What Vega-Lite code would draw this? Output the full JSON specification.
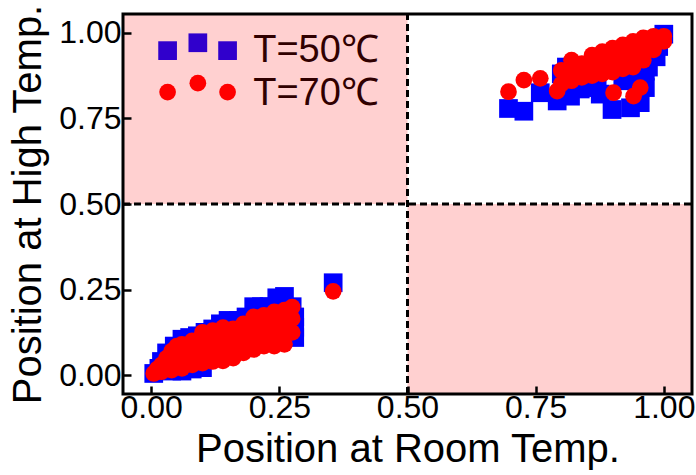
{
  "$schema": "https://vega.github.io/schema/vega-lite/v6.json",
  "width": 569,
  "height": 380,
  "autosize": {"type": "none"},
  "padding": {"left": 123, "top": 14, "right": 4, "bottom": 81},
  "background": "white",
  "config": {"view": {"stroke": null}, "font": "Liberation Sans"},
  "datasets": {
    "regions": [
      {"x": -0.06, "x2": 0.5, "y": 0.5, "y2": 1.06},
      {"x": 0.5, "x2": 1.06, "y": -0.06, "y2": 0.5}
    ],
    "lines": [
      {"x": 0.5, "x2": 0.5, "y": -0.055, "y2": 1.055},
      {"x": -0.055, "x2": 1.055, "y": 0.5, "y2": 0.5}
    ],
    "frame": [
      {"x": -0.055, "x2": 1.055, "y": -0.055, "y2": 1.055}
    ],
    "t50": [
      {"x": 0.005, "y": 0.005}, {"x": 0.015, "y": 0.02}, {"x": 0.02, "y": 0.04}, {"x": 0.03, "y": 0.065},
      {"x": 0.045, "y": 0.085}, {"x": 0.06, "y": 0.105}, {"x": 0.075, "y": 0.11}, {"x": 0.09, "y": 0.115},
      {"x": 0.105, "y": 0.125}, {"x": 0.12, "y": 0.135}, {"x": 0.135, "y": 0.15}, {"x": 0.15, "y": 0.16},
      {"x": 0.17, "y": 0.16}, {"x": 0.185, "y": 0.17}, {"x": 0.2, "y": 0.2}, {"x": 0.215, "y": 0.2},
      {"x": 0.23, "y": 0.2}, {"x": 0.245, "y": 0.226}, {"x": 0.26, "y": 0.23}, {"x": 0.275, "y": 0.2},
      {"x": 0.28, "y": 0.17}, {"x": 0.28, "y": 0.14}, {"x": 0.28, "y": 0.11}, {"x": 0.04, "y": 0.012},
      {"x": 0.06, "y": 0.012}, {"x": 0.08, "y": 0.018}, {"x": 0.1, "y": 0.022}, {"x": 0.05, "y": 0.05},
      {"x": 0.1, "y": 0.07}, {"x": 0.15, "y": 0.09}, {"x": 0.2, "y": 0.12}, {"x": 0.25, "y": 0.15},
      {"x": 0.355, "y": 0.27},
      {"x": 0.697, "y": 0.779}, {"x": 0.727, "y": 0.771}, {"x": 0.759, "y": 0.825}, {"x": 0.792, "y": 0.801},
      {"x": 0.818, "y": 0.815}, {"x": 0.837, "y": 0.836}, {"x": 0.8, "y": 0.88}, {"x": 0.81, "y": 0.9},
      {"x": 0.85, "y": 0.84}, {"x": 0.87, "y": 0.85}, {"x": 0.876, "y": 0.821}, {"x": 0.899, "y": 0.776},
      {"x": 0.92, "y": 0.86}, {"x": 0.935, "y": 0.781}, {"x": 0.954, "y": 0.796}, {"x": 0.95, "y": 0.87},
      {"x": 0.964, "y": 0.84}, {"x": 0.97, "y": 0.9}, {"x": 0.964, "y": 0.888}, {"x": 0.985, "y": 0.93},
      {"x": 0.99, "y": 0.96}, {"x": 1.0, "y": 0.996}, {"x": 0.9, "y": 0.9}, {"x": 0.94, "y": 0.94}
    ],
    "t70": [
      {"x": 0.005, "y": 0.005}, {"x": 0.012, "y": 0.018},
      {"x": 0.02, "y": 0.01}, {"x": 0.02, "y": 0.03},
      {"x": 0.03, "y": 0.02}, {"x": 0.03, "y": 0.05},
      {"x": 0.04, "y": 0.015}, {"x": 0.04, "y": 0.045}, {"x": 0.04, "y": 0.07},
      {"x": 0.05, "y": 0.03}, {"x": 0.05, "y": 0.06}, {"x": 0.05, "y": 0.085},
      {"x": 0.06, "y": 0.02}, {"x": 0.06, "y": 0.05}, {"x": 0.06, "y": 0.09},
      {"x": 0.07, "y": 0.035}, {"x": 0.07, "y": 0.07},
      {"x": 0.08, "y": 0.03}, {"x": 0.08, "y": 0.065}, {"x": 0.08, "y": 0.1},
      {"x": 0.09, "y": 0.045}, {"x": 0.09, "y": 0.085},
      {"x": 0.1, "y": 0.035}, {"x": 0.1, "y": 0.08}, {"x": 0.1, "y": 0.125},
      {"x": 0.11, "y": 0.055}, {"x": 0.11, "y": 0.1},
      {"x": 0.12, "y": 0.04}, {"x": 0.12, "y": 0.085}, {"x": 0.12, "y": 0.13},
      {"x": 0.13, "y": 0.06}, {"x": 0.13, "y": 0.11},
      {"x": 0.14, "y": 0.042}, {"x": 0.14, "y": 0.09}, {"x": 0.14, "y": 0.139},
      {"x": 0.15, "y": 0.07}, {"x": 0.15, "y": 0.115},
      {"x": 0.16, "y": 0.05}, {"x": 0.16, "y": 0.095}, {"x": 0.16, "y": 0.135},
      {"x": 0.17, "y": 0.08}, {"x": 0.17, "y": 0.125},
      {"x": 0.18, "y": 0.065}, {"x": 0.18, "y": 0.11}, {"x": 0.18, "y": 0.15},
      {"x": 0.19, "y": 0.09}, {"x": 0.19, "y": 0.135},
      {"x": 0.2, "y": 0.075}, {"x": 0.2, "y": 0.12}, {"x": 0.2, "y": 0.17},
      {"x": 0.21, "y": 0.1}, {"x": 0.21, "y": 0.15},
      {"x": 0.22, "y": 0.085}, {"x": 0.22, "y": 0.13}, {"x": 0.22, "y": 0.175},
      {"x": 0.23, "y": 0.11}, {"x": 0.23, "y": 0.155},
      {"x": 0.24, "y": 0.085}, {"x": 0.24, "y": 0.135}, {"x": 0.24, "y": 0.185},
      {"x": 0.25, "y": 0.115}, {"x": 0.25, "y": 0.16},
      {"x": 0.26, "y": 0.09}, {"x": 0.26, "y": 0.14}, {"x": 0.26, "y": 0.19},
      {"x": 0.275, "y": 0.125}, {"x": 0.275, "y": 0.165}, {"x": 0.275, "y": 0.199},
      {"x": 0.355, "y": 0.245},
      {"x": 0.697, "y": 0.828}, {"x": 0.727, "y": 0.862}, {"x": 0.759, "y": 0.867}, {"x": 0.792, "y": 0.83},
      {"x": 0.902, "y": 0.825}, {"x": 0.941, "y": 0.815}, {"x": 0.954, "y": 0.84},
      {"x": 0.8, "y": 0.85}, {"x": 0.8, "y": 0.89},
      {"x": 0.82, "y": 0.86}, {"x": 0.82, "y": 0.9}, {"x": 0.82, "y": 0.92},
      {"x": 0.84, "y": 0.87}, {"x": 0.84, "y": 0.91},
      {"x": 0.86, "y": 0.875}, {"x": 0.86, "y": 0.91}, {"x": 0.86, "y": 0.935},
      {"x": 0.88, "y": 0.88}, {"x": 0.88, "y": 0.92}, {"x": 0.88, "y": 0.945},
      {"x": 0.9, "y": 0.885}, {"x": 0.9, "y": 0.925}, {"x": 0.9, "y": 0.955},
      {"x": 0.92, "y": 0.895}, {"x": 0.92, "y": 0.935}, {"x": 0.92, "y": 0.965},
      {"x": 0.94, "y": 0.9}, {"x": 0.94, "y": 0.94}, {"x": 0.94, "y": 0.975},
      {"x": 0.96, "y": 0.92}, {"x": 0.96, "y": 0.955}, {"x": 0.96, "y": 0.985},
      {"x": 0.98, "y": 0.95}, {"x": 0.98, "y": 0.99},
      {"x": 1.0, "y": 0.975}, {"x": 1.0, "y": 0.99}
    ],
    "legendSquares": [
      {"x": 0.032, "y": 0.948}, {"x": 0.091, "y": 0.971}, {"x": 0.149, "y": 0.948}
    ],
    "legendCircles": [
      {"x": 0.032, "y": 0.827}, {"x": 0.091, "y": 0.853}, {"x": 0.149, "y": 0.827}
    ],
    "legendText": [
      {"x": 0.199, "y": 0.9145, "label": "T=50℃"},
      {"x": 0.199, "y": 0.789, "label": "T=70℃"}
    ]
  },
  "encoding": {
    "x": {
      "field": "x", "type": "quantitative",
      "scale": {"domain": [-0.055, 1.055], "nice": false, "zero": false},
      "axis": {
        "values": [0, 0.25, 0.5, 0.75, 1], "format": ".2f",
        "title": "Position at Room Temp.",
        "labelFontSize": 32, "titleFontSize": 40, "titleFontWeight": "normal",
        "labelColor": "black", "titleColor": "black", "tickColor": "black",
        "tickWidth": 2.5, "tickSize": -8, "labelPadding": 6, "titlePadding": 6,
        "domain": false, "grid": false, "labelFlush": false, "labelOverlap": false, "zindex": 1
      }
    },
    "y": {
      "field": "y", "type": "quantitative",
      "scale": {"domain": [-0.055, 1.055], "nice": false, "zero": false},
      "axis": {
        "values": [0, 0.25, 0.5, 0.75, 1], "format": ".2f",
        "title": "Position at High Temp.",
        "labelFontSize": 32, "titleFontSize": 40, "titleFontWeight": "normal",
        "labelColor": "black", "titleColor": "black", "tickColor": "black",
        "tickWidth": 2.5, "tickSize": -8, "labelPadding": 10, "titlePadding": 10,
        "domain": false, "grid": false, "labelFlush": false, "labelOverlap": false, "zindex": 1
      }
    }
  },
  "layer": [
    {
      "data": {"name": "regions"},
      "mark": {"type": "rect", "color": "#ffd0d0", "clip": true},
      "encoding": {"x2": {"field": "x2"}, "y2": {"field": "y2"}}
    },
    {
      "data": {"name": "lines"},
      "mark": {"type": "rule", "color": "black", "strokeWidth": 3, "strokeDash": [7, 4]},
      "encoding": {"x2": {"field": "x2"}, "y2": {"field": "y2"}}
    },
    {
      "data": {"name": "t50"},
      "mark": {"type": "point", "shape": "square", "filled": true, "color": "#0000ff", "size": 350, "opacity": 1}
    },
    {
      "data": {"name": "t70"},
      "mark": {"type": "point", "shape": "circle", "filled": true, "color": "#ff0000", "size": 280, "opacity": 1}
    },
    {
      "data": {"name": "legendSquares"},
      "mark": {"type": "point", "shape": "square", "filled": true, "color": "#3000cc", "size": 350, "opacity": 1}
    },
    {
      "data": {"name": "legendCircles"},
      "mark": {"type": "point", "shape": "circle", "filled": true, "color": "#ff0000", "size": 280, "opacity": 1}
    },
    {
      "data": {"name": "legendText"},
      "mark": {"type": "text", "align": "left", "baseline": "alphabetic", "fontSize": 38, "color": "#300000", "font": "Liberation Sans"},
      "encoding": {"text": {"field": "label"}}
    },
    {
      "data": {"name": "frame"},
      "mark": {"type": "rect", "fill": null, "fillOpacity": 0, "stroke": "black", "strokeWidth": 3},
      "encoding": {"x2": {"field": "x2"}, "y2": {"field": "y2"}}
    }
  ]
}
